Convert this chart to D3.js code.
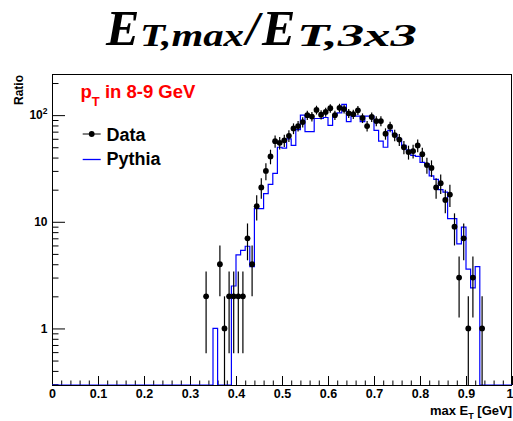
<!DOCTYPE html>
<html>
<head>
<meta charset="utf-8">
<script src="https://cdn.jsdelivr.net/npm/d3@7"></script>
<style>
  html, body { margin: 0; padding: 0; background: #fff; }
  svg { display: block; }
  text { font-family: "Liberation Sans", Arial, Helvetica, sans-serif; font-weight: bold; }
</style>
</head>
<body>
<svg id="chart" width="513" height="421"></svg>
<script>
// Lower edges of the 0.01-wide bins that carry entries (max E_T fraction)
const binLow = [
  0.33, 0.34, 0.35, 0.36, 0.37, 0.38, 0.39, 0.40, 0.41, 0.42,
  0.43, 0.44, 0.45, 0.46, 0.47, 0.48, 0.49, 0.50, 0.51, 0.52,
  0.53, 0.54, 0.55, 0.56, 0.57, 0.58, 0.59, 0.60, 0.61, 0.62,
  0.63, 0.64, 0.65, 0.66, 0.67, 0.68, 0.69, 0.70, 0.71, 0.72,
  0.73, 0.74, 0.75, 0.76, 0.77, 0.78, 0.79, 0.80, 0.81, 0.82,
  0.83, 0.84, 0.85, 0.86, 0.87, 0.88, 0.89, 0.90, 0.91, 0.92,
  0.93
];
const binWidth = 0.01;

// Measured entries per bin (errors are sqrt(N))
const dataCounts = [
  2, 0, 0, 4, 1, 2, 2, 2, 2, 7,
  4, 14, 21, 30, 41, 57, 55, 58, 64, 75,
  79, 86, 100, 97, 112, 101, 107, 116, 100, 117,
  114, 104, 102, 111, 94, 79, 96, 88, 88, 67,
  78, 65, 59, 50, 45, 46, 52, 43, 34, 32,
  21, 23, 16, 18, 9, 3, 7, 1, 3, 0,
  1
];

// Pythia simulation, normalised to the data
const pythiaValues = [
  0, 0, 1, 0, 0, 0, 2.5, 4.9, 5.4, 5.9,
  3.8, 13.3, 13.3, 18.4, 22.4, 28.4, 50, 49, 60, 52,
  73, 100, 70, 70, 93, 93, 95, 80, 100, 105,
  126, 87, 98, 98, 87, 98, 98, 72, 57, 50,
  72, 66, 60, 52, 47, 42, 41, 36, 35, 27,
  25, 20, 19, 10.7, 10.7, 6.2, 8.9, 3.6, 2.4, 3.8,
  0
];

const xTickValues = [0, 0.1, 0.2, 0.3, 0.4, 0.5, 0.6, 0.7, 0.8, 0.9, 1];
const xTickLabels = ["0", "0.1", "0.2", "0.3", "0.4", "0.5", "0.6", "0.7", "0.8", "0.9", "1"];
const yTickValues = [1, 10, 100];
const yTickLabels = ["1", "10", "10|2"];
const yMinorValues = [0.3, 0.4, 0.5, 0.6, 0.7, 0.8, 0.9,
                      2, 3, 4, 5, 6, 7, 8, 9,
                      20, 30, 40, 50, 60, 70, 80, 90, 200];

const frame = { left: 52, right: 512, top: 74, bottom: 385 };
const svg = d3.select("#chart");

const x = d3.scaleLinear().domain([0, 1]).range([frame.left, frame.right]);
const y = d3.scaleLog().domain([0.295, 243]).range([frame.bottom, frame.top]);
const yc = v => (v > 0 ? Math.min(frame.bottom, Math.max(frame.top, y(v))) : frame.bottom);

svg.append("defs").append("clipPath").attr("id", "plotClip")
  .append("rect")
  .attr("x", frame.left).attr("y", frame.top)
  .attr("width", frame.right - frame.left).attr("height", frame.bottom - frame.top);

// Frame
svg.append("rect")
  .attr("x", frame.left + 0.5).attr("y", frame.top + 0.5)
  .attr("width", frame.right - frame.left - 1).attr("height", frame.bottom - frame.top)
  .attr("fill", "none").attr("stroke", "#000").attr("stroke-width", 1);

// X axis: major and minor ticks pointing inwards
const xMinor = d3.range(0, 1.0001, 0.02);
const gxMinor = svg.append("g").attr("transform", `translate(0,${frame.bottom})`)
  .call(d3.axisBottom(x).tickValues(xMinor).tickSize(-4.5).tickFormat(""));
const gx = svg.append("g").attr("transform", `translate(0,${frame.bottom})`)
  .call(d3.axisBottom(x).tickValues(xTickValues).tickSize(-9).tickPadding(4.5)
    .tickFormat((d, i) => xTickLabels[i]));
[gx, gxMinor].forEach(g => {
  g.select(".domain").remove();
  g.selectAll(".tick line").attr("stroke", "#000");
});
gx.selectAll(".tick text").attr("font-size", 12.5).attr("fill", "#000")
  .style("font-family", "'Liberation Sans', Arial, sans-serif").style("font-weight", "bold")
  .attr("text-anchor", (d, i) => (i === xTickValues.length - 1 ? "end" : "middle"))
  .attr("x", (d, i) => (i === xTickValues.length - 1 ? 1 : 0));

// Y axis: logarithmic, decade ticks plus 2..9 minor ticks
const gyMinor = svg.append("g").attr("transform", `translate(${frame.left},0)`)
  .call(d3.axisLeft(y).tickValues(yMinorValues).tickSize(-6.5).tickFormat(""));
const gy = svg.append("g").attr("transform", `translate(${frame.left},0)`)
  .call(d3.axisLeft(y).tickValues(yTickValues).tickSize(-13).tickPadding(4.5)
    .tickFormat(""));
[gy, gyMinor].forEach(g => {
  g.select(".domain").remove();
  g.selectAll(".tick line").attr("stroke", "#000");
});
gy.selectAll(".tick text").each(function(d, i) {
  const t = d3.select(this)
    .attr("font-size", 12).attr("fill", "#000")
    .style("font-family", "'Liberation Sans', Arial, sans-serif").style("font-weight", "bold");
  const parts = yTickLabels[i].split("|");
  t.text(null);
  t.append("tspan").text(parts[0]);
  if (parts[1]) t.append("tspan").attr("font-size", 8.5).attr("dy", -5).text(parts[1]);
});

// Pythia histogram outline (empty bins sit on the lower frame edge)
const histPts = [[0, 0]];
binLow.forEach((b, i) => {
  histPts.push([b, pythiaValues[i]]);
  histPts.push([b + binWidth, pythiaValues[i]]);
});
histPts.push([binLow[binLow.length - 1] + binWidth, 0]);
histPts.push([1, 0]);
const stepPts = [];
histPts.forEach((p, i) => {
  if (i > 0) stepPts.push([p[0], histPts[i - 1][1]]);
  stepPts.push(p);
});
svg.append("path")
  .attr("clip-path", "url(#plotClip)")
  .attr("d", d3.line().x(p => x(p[0])).y(p => yc(p[1]))(stepPts))
  .attr("fill", "none").attr("stroke", "#0000ff").attr("stroke-width", 1.2);

// Data: sqrt(N) error bars and filled markers
const pts = binLow.map((b, i) => ({ xc: b + binWidth / 2, n: dataCounts[i] })).filter(d => d.n > 0);
const gData = svg.append("g").attr("clip-path", "url(#plotClip)");
gData.selectAll("line.err").data(pts).join("line")
  .attr("class", "err")
  .attr("x1", d => x(d.xc)).attr("x2", d => x(d.xc))
  .attr("y1", d => yc(d.n + Math.sqrt(d.n)))
  .attr("y2", d => yc(d.n - Math.sqrt(d.n)))
  .attr("stroke", "#000").attr("stroke-width", 1.2);
gData.selectAll("circle").data(pts).join("circle")
  .attr("cx", d => x(d.xc)).attr("cy", d => y(d.n)).attr("r", 2.9)
  .attr("fill", "#000");

// Title: E_T,max / E_T,3x3 set piece by piece in a bold italic serif
const titleParts = [
  { s: "E",     x: 106, y: 45, size: 50, len: null },
  { s: "T,max", x: 140, y: 46, size: 32, len: 104 },
  { s: "/",     x: 246, y: 45, size: 48, len: null },
  { s: "E",     x: 262, y: 45, size: 50, len: null },
  { s: "T,3x3", x: 297, y: 46, size: 32, len: 120 }
];
svg.append("g").selectAll("text").data(titleParts).join("text")
  .attr("x", d => d.x).attr("y", d => d.y)
  .attr("font-size", d => d.size)
  .attr("textLength", d => d.len)
  .attr("lengthAdjust", d => (d.len ? "spacingAndGlyphs" : null))
  .style("font-family", "'Liberation Serif', 'Times New Roman', serif")
  .style("font-weight", "bold").style("font-style", "italic")
  .attr("fill", "#000")
  .text(d => d.s);

// pT range label
const ptLabel = svg.append("text").attr("x", 80.5).attr("y", 98.3)
  .attr("font-size", 18.5).attr("fill", "#ff0000");
ptLabel.append("tspan").text("p");
ptLabel.append("tspan").attr("font-size", 13).attr("dy", 8).text("T");
ptLabel.append("tspan").attr("dy", -8).text(" in 8-9 GeV");

// Legend
const legend = svg.append("g");
legend.append("line").attr("x1", 82.7).attr("x2", 100.7).attr("y1", 134).attr("y2", 134)
  .attr("stroke", "#000").attr("stroke-width", 1);
legend.append("circle").attr("cx", 91.7).attr("cy", 134).attr("r", 2.9).attr("fill", "#000");
legend.append("text").attr("x", 106.5).attr("y", 140.7).attr("font-size", 18).attr("fill", "#000").text("Data");
legend.append("line").attr("x1", 82.7).attr("x2", 100.7).attr("y1", 159.5).attr("y2", 159.5)
  .attr("stroke", "#0000ff").attr("stroke-width", 1.3);
legend.append("text").attr("x", 106.5).attr("y", 165).attr("font-size", 18).attr("fill", "#000").text("Pythia");

// Axis titles
const xTitle = svg.append("text").attr("x", 512).attr("y", 414.5)
  .attr("text-anchor", "end").attr("font-size", 13).attr("fill", "#000");
xTitle.append("tspan").text("max E");
xTitle.append("tspan").attr("font-size", 9).attr("dy", 4).text("T");
xTitle.append("tspan").attr("dy", -4).text(" [GeV]");

svg.append("text")
  .attr("transform", `translate(23,${frame.top + 1}) rotate(-90)`)
  .attr("text-anchor", "end").attr("font-size", 12).attr("fill", "#000")
  .text("Ratio");
</script>
</body>
</html>
